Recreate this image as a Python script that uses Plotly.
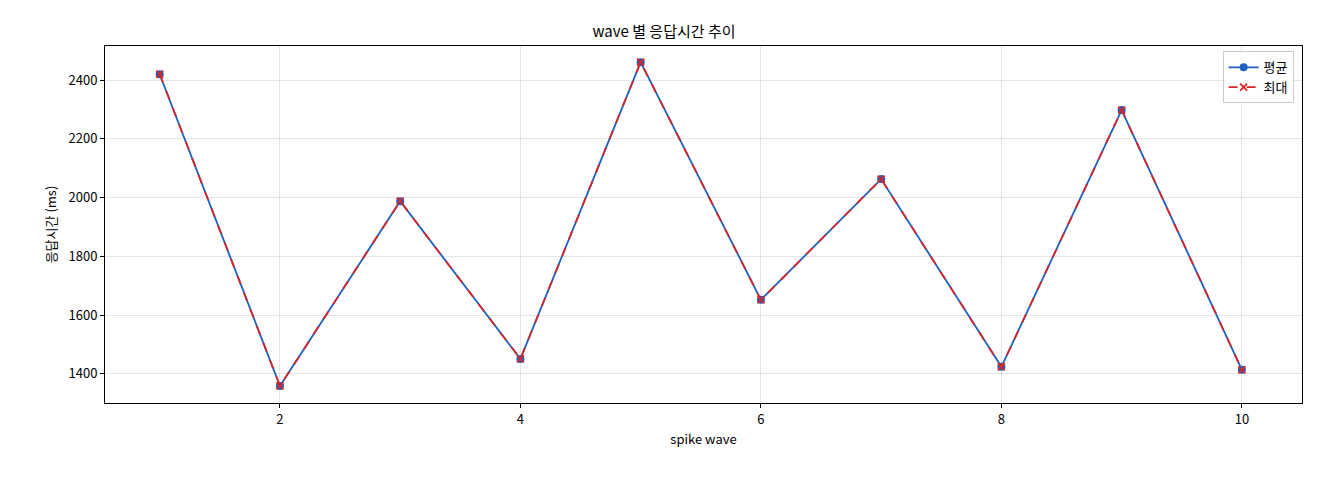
import plotly.graph_objects as go

waves = [1, 2, 3, 4, 5, 6, 7, 8, 9, 10]
avg_ms = [2420, 1359, 1988, 1451, 2461, 1652, 2063, 1424, 2298, 1414]
max_ms = [2420, 1359, 1988, 1451, 2461, 1652, 2063, 1424, 2298, 1414]

fig = go.Figure()
fig.add_trace(go.Scatter(x=waves, y=avg_ms, name="평균", mode="lines+markers",
                         line=dict(color="#1f5fbf", width=1.8),
                         marker=dict(symbol="circle", size=8, color="#1f5fbf")))
fig.add_trace(go.Scatter(x=waves, y=max_ms, name="최대", mode="lines+markers",
                         line=dict(color="#d62728", width=1.8, dash="dash"),
                         marker=dict(symbol="x-thin", size=7, color="#d62728",
                                     line=dict(color="#d62728", width=1.8))))

axis = dict(showline=True, linecolor="black", linewidth=1, mirror=True,
            showgrid=True, gridcolor="rgba(0,0,0,0.1)", ticks="outside",
            ticklen=4, tickcolor="black", zeroline=False)
fig.update_layout(
    width=1312, height=472, plot_bgcolor="white", paper_bgcolor="white",
    font=dict(family="Noto Sans CJK KR", size=13, color="black"),
    title=dict(text="wave 별 응답시간 추이", x=0.5, xanchor="center", y=0.96, font=dict(size=15)),
    margin=dict(l=97, r=18, t=38, b=77),
    xaxis=dict(axis, range=[0.545, 10.5], dtick=2,
               title=dict(text="spike wave", standoff=8, font=dict(size=13))),
    yaxis=dict(axis, range=[1301, 2516], dtick=200,
               title=dict(text="응답시간 (ms)", standoff=8, font=dict(size=13))),
    legend=dict(x=0.993, y=0.985, xanchor="right", yanchor="top",
                bordercolor="#cccccc", borderwidth=1, bgcolor="white"),
)
fig.write_html("out.html")
